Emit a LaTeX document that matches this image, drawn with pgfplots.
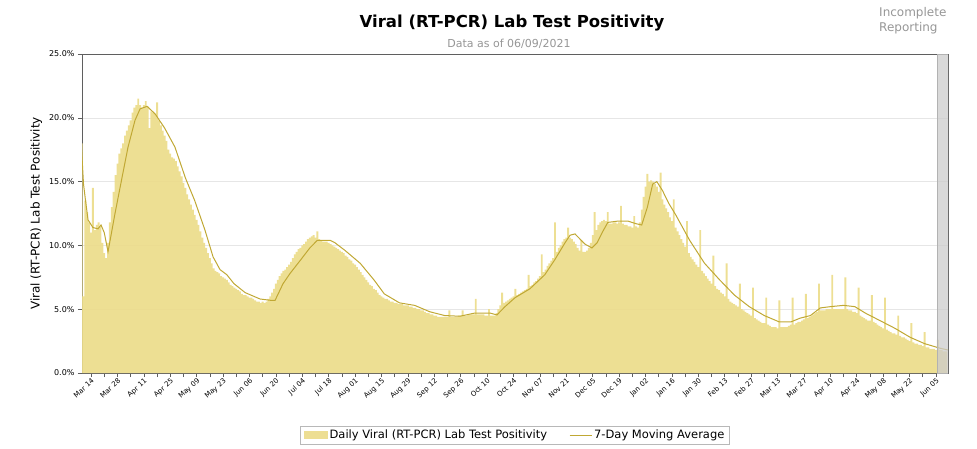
\documentclass[border=0pt]{standalone}
\usepackage{fontspec}
\setmainfont{DejaVu Sans}
\usepackage{pgfplots}
\pgfplotsset{compat=1.18}
\definecolor{areacol}{RGB}{236,220,138}
\definecolor{macol}{RGB}{192,168,52}
\definecolor{gridcol}{RGB}{230,230,230}
\definecolor{framecol}{RGB}{95,95,95}
\definecolor{txtgray}{RGB}{150,150,150}

\begin{document}
\begin{tikzpicture}
\path[use as bounding box] (0pt,0pt) rectangle (977pt,448pt);
\node[font=\bfseries\fontsize{16.5}{18}\selectfont] at (512pt,425pt) {Viral (RT-PCR) Lab Test Positivity};
\node[font=\fontsize{11}{13}\selectfont, text=txtgray] at (509pt,404pt) {Data as of 06/09/2021};
\node[font=\fontsize{12}{15}\selectfont, text=txtgray, align=left, anchor=north west, inner sep=0pt] at (879pt,441pt) {Incomplete\\Reporting};
\begin{axis}[
  at={(82pt,75pt)}, anchor=south west,
  scale only axis, width=866pt, height=319pt,
  xmin=-4.8, xmax=454.4, ymin=0, ymax=25,
  ytick={0,5,...,25},
  yticklabels={0.0\%,5.0\%,10.0\%,15.0\%,20.0\%,25.0\%},
  xtick={0,14,...,448},
  xticklabels={Mar 14,Mar 28,Apr 11,Apr 25,May 09,May 23,Jun 06,Jun 20,Jul 04,Jul 18,Aug 01,Aug 15,Aug 29,Sep 12,Sep 26,Oct 10,Oct 24,Nov 07,Nov 21,Dec 05,Dec 19,Jan 02,Jan 16,Jan 30,Feb 13,Feb 27,Mar 13,Mar 27,Apr 10,Apr 24,May 08,May 22,Jun 05},
  minor xtick={7,21,...,441},
  tick align=outside, tick pos=left,
  major tick length=4pt, minor tick length=4pt,
  tick style={framecol, line width=0.6pt},
  axis line style={framecol, line width=0.8pt},
  ymajorgrids, grid style={gridcol, line width=0.6pt},
  xticklabel style={rotate=42, anchor=north east, font=\fontsize{7}{7.5}\selectfont, inner sep=0.5pt},
  yticklabel style={font=\fontsize{8}{9}\selectfont},
  ylabel={Viral (RT-PCR) Lab Test Positivity},
  ylabel style={font=\fontsize{12}{14}\selectfont},
  legend style={at={(axis description cs:0.5,-0.195)}, anchor=center,
    draw=gridcol!80!black, font=\fontsize{11.5}{13}\selectfont, legend columns=2,
    /tikz/every even column/.append style={column sep=20pt}},
  legend cell align=left,
  legend image code/.code={\draw[#1] (0pt,0pt) -- (22pt,0pt);},
]
\addplot[const plot mark mid, fill=areacol, fill opacity=0.92, draw=none,
  legend image code/.code={\fill[areacol] (0pt,-4pt) rectangle (24pt,4pt);}] coordinates {
(-5,18.0)(-4,6.0)(-3,13.5)(-2,12.6)(-1,11.8)(0,11.0)(1,14.5)(2,11.2)(3,11.6)(4,11.8)
(5,11.5)(6,10.2)(7,9.4)(8,9.0)(9,10.2)(10,11.8)(11,13.0)(12,14.2)(13,15.5)(14,16.4)
(15,17.2)(16,17.6)(17,18.0)(18,18.6)(19,19.0)(20,19.4)(21,19.8)(22,20.4)(23,20.8)(24,21.0)
(25,21.5)(26,21.0)(27,20.8)(28,21.0)(29,21.3)(30,20.9)(31,19.2)(32,20.5)(33,20.4)(34,20.3)
(35,21.2)(36,19.8)(37,19.4)(38,19.0)(39,18.6)(40,18.2)(41,17.5)(42,17.2)(43,16.9)(44,16.8)
(45,16.6)(46,16.2)(47,15.8)(48,15.4)(49,14.9)(50,14.5)(51,14.0)(52,13.6)(53,13.2)(54,12.8)
(55,12.4)(56,12.0)(57,11.6)(58,11.1)(59,10.6)(60,10.2)(61,9.8)(62,9.4)(63,9.0)(64,8.6)
(65,8.2)(66,8.0)(67,7.9)(68,7.8)(69,7.6)(70,7.5)(71,7.4)(72,7.3)(73,7.1)(74,6.9)
(75,6.8)(76,6.7)(77,6.6)(78,6.5)(79,6.4)(80,6.2)(81,6.1)(82,6.1)(83,6.0)(84,5.9)
(85,5.9)(86,5.8)(87,5.7)(88,5.6)(89,5.6)(90,5.5)(91,5.6)(92,5.5)(93,5.6)(94,5.8)
(95,6.0)(96,6.3)(97,6.6)(98,7.0)(99,7.3)(100,7.6)(101,7.8)(102,8.0)(103,8.1)(104,8.3)
(105,8.5)(106,8.7)(107,9.0)(108,9.3)(109,9.5)(110,9.7)(111,9.8)(112,10.0)(113,10.1)(114,10.3)
(115,10.5)(116,10.6)(117,10.7)(118,10.8)(119,10.6)(120,11.1)(121,10.5)(122,10.4)(123,10.3)(124,10.3)
(125,10.3)(126,10.2)(127,10.1)(128,10.0)(129,9.9)(130,9.8)(131,9.7)(132,9.6)(133,9.5)(134,9.4)
(135,9.2)(136,9.1)(137,8.9)(138,8.8)(139,8.6)(140,8.5)(141,8.3)(142,8.1)(143,7.9)(144,7.7)
(145,7.5)(146,7.3)(147,7.1)(148,6.9)(149,6.8)(150,6.6)(151,6.5)(152,6.3)(153,6.1)(154,6.0)
(155,5.9)(156,5.8)(157,5.8)(158,5.7)(159,5.6)(160,5.6)(161,5.5)(162,5.5)(163,5.4)(164,5.4)
(165,5.4)(166,5.3)(167,5.3)(168,5.3)(169,5.2)(170,5.2)(171,5.1)(172,5.1)(173,5.0)(174,5.0)
(175,4.9)(176,4.9)(177,4.8)(178,4.7)(179,4.7)(180,4.6)(181,4.6)(182,4.5)(183,4.5)(184,4.4)
(185,4.4)(186,4.4)(187,4.4)(188,4.4)(189,4.4)(190,4.9)(191,4.4)(192,4.4)(193,4.4)(194,4.4)
(195,4.5)(196,4.5)(197,4.9)(198,4.5)(199,4.5)(200,4.6)(201,4.6)(202,4.6)(203,4.6)(204,5.8)
(205,4.6)(206,4.6)(207,4.6)(208,4.6)(209,4.5)(210,4.5)(211,5.0)(212,4.5)(213,4.5)(214,4.5)
(215,4.7)(216,5.0)(217,5.3)(218,6.3)(219,5.5)(220,5.6)(221,5.7)(222,5.8)(223,5.9)(224,6.0)
(225,6.6)(226,6.1)(227,6.2)(228,6.3)(229,6.4)(230,6.5)(231,6.6)(232,7.7)(233,6.8)(234,6.9)
(235,7.1)(236,7.2)(237,7.4)(238,7.6)(239,9.3)(240,7.9)(241,8.1)(242,8.4)(243,8.6)(244,8.8)
(245,9.0)(246,11.8)(247,9.5)(248,9.8)(249,10.0)(250,10.3)(251,10.5)(252,10.6)(253,11.4)(254,10.6)
(255,10.5)(256,10.3)(257,10.1)(258,9.8)(259,9.6)(260,10.4)(261,9.5)(262,9.5)(263,9.6)(264,9.8)
(265,10.2)(266,10.8)(267,12.6)(268,11.2)(269,11.6)(270,11.8)(271,11.9)(272,12.0)(273,11.9)(274,12.6)
(275,11.7)(276,11.7)(277,11.8)(278,11.8)(279,11.7)(280,11.8)(281,13.1)(282,11.7)(283,11.6)(284,11.6)
(285,11.5)(286,11.5)(287,11.4)(288,12.3)(289,11.5)(290,11.4)(291,11.8)(292,12.8)(293,13.8)(294,14.6)
(295,15.6)(296,15.0)(297,15.1)(298,15.0)(299,14.8)(300,14.6)(301,14.2)(302,15.7)(303,13.6)(304,13.2)
(305,12.9)(306,12.6)(307,12.2)(308,11.9)(309,13.6)(310,11.4)(311,11.1)(312,10.8)(313,10.5)(314,10.2)
(315,9.9)(316,11.9)(317,9.4)(318,9.1)(319,8.9)(320,8.7)(321,8.5)(322,8.3)(323,11.2)(324,8.0)
(325,7.8)(326,7.6)(327,7.4)(328,7.2)(329,7.0)(330,9.2)(331,6.8)(332,6.6)(333,6.5)(334,6.3)
(335,6.2)(336,6.0)(337,8.6)(338,5.8)(339,5.6)(340,5.5)(341,5.4)(342,5.3)(343,5.2)(344,7.0)
(345,5.0)(346,4.9)(347,4.8)(348,4.7)(349,4.6)(350,4.5)(351,6.7)(352,4.3)(353,4.2)(354,4.1)
(355,4.0)(356,3.9)(357,3.9)(358,5.9)(359,3.8)(360,3.7)(361,3.6)(362,3.6)(363,3.6)(364,3.5)
(365,5.7)(366,3.6)(367,3.6)(368,3.6)(369,3.6)(370,3.7)(371,3.8)(372,5.9)(373,3.8)(374,3.9)
(375,4.0)(376,4.0)(377,4.1)(378,4.2)(379,6.2)(380,4.3)(381,4.4)(382,4.5)(383,4.6)(384,4.7)
(385,4.8)(386,7.0)(387,4.9)(388,4.9)(389,4.9)(390,5.0)(391,5.0)(392,5.0)(393,7.7)(394,5.0)
(395,5.0)(396,5.0)(397,5.0)(398,5.0)(399,5.0)(400,7.5)(401,5.0)(402,4.9)(403,4.9)(404,4.8)
(405,4.8)(406,4.7)(407,6.7)(408,4.5)(409,4.4)(410,4.3)(411,4.2)(412,4.1)(413,4.1)(414,6.1)
(415,4.0)(416,3.9)(417,3.8)(418,3.7)(419,3.6)(420,3.5)(421,5.9)(422,3.4)(423,3.3)(424,3.2)
(425,3.1)(426,3.1)(427,3.0)(428,4.5)(429,2.9)(430,2.8)(431,2.8)(432,2.7)(433,2.6)(434,2.5)
(435,3.9)(436,2.4)(437,2.3)(438,2.3)(439,2.2)(440,2.2)(441,2.1)(442,3.2)(443,2.0)(444,2.0)
(445,1.9)(446,1.9)(447,1.9)(448,1.8)(449,2.6)(450,1.8)(451,1.8)(452,1.7)(453,1.7)(454,1.7)
} \closedcycle;
\addlegendentry{Daily Viral (RT-PCR) Lab Test Positivity}
\addplot[macol, line width=1pt] coordinates {
(-5,17.5)(-4,14.8)(-3,13.6)(-1.6,12.0)(1,11.4)(3.7,11.3)(5.3,11.6)(7,11.0)(9,9.5)
(12.7,12.5)(16.4,15.3)(19.6,17.7)(23.3,19.8)(26,20.7)(29.7,20.9)(34,20.3)(39,19.2)
(44.5,17.7)(50,15.3)(55,13.5)(60.4,11.2)(64.7,9.1)(68.4,8.1)(72,7.7)(75.8,7.0)
(81.7,6.3)(89.6,5.8)(95,5.7)(97.6,5.7)(101.8,7.0)(105.5,7.8)(110.8,8.8)(116,9.8)
(120,10.4)(126.7,10.4)(129.4,10.2)(134.7,9.6)(142.7,8.6)(150,7.3)(155.5,6.2)
(163.5,5.5)(171.6,5.3)(179.6,4.8)(187.6,4.5)(195.6,4.45)(203.5,4.7)(211.5,4.7)
(215.2,4.55)(219.5,5.2)(224.8,5.9)(232.7,6.6)(240.6,7.7)(246,8.9)(251.3,10.2)
(254,10.8)(256.6,10.9)(261.9,10.1)(265.6,9.8)(268.3,10.2)(271,11.0)(274,11.8)
(279,11.9)(284.8,11.9)(289,11.7)(292,11.6)(295,13.0)(297.8,14.8)(300,15.0)
(303,14.3)(306.3,13.3)(310,12.4)(317.4,10.4)(325.3,8.6)(333.3,7.3)(341.2,6.1)
(349,5.2)(357,4.5)(365,4.0)(371,4.0)(376,4.3)(381.4,4.5)(386.7,5.1)(392,5.2)
(399,5.3)(405,5.2)(410.5,4.7)(418.4,4.1)(426.3,3.5)(434.3,2.8)(442,2.3)(450,1.95)(454.4,1.8)
};
\addlegendentry{7-Day Moving Average}
\addplot[draw=black!30, fill=black!20, fill opacity=0.75, forget plot] coordinates {
(448.6,0)(448.6,25)(454.4,25)(454.4,0)} -- cycle;
\end{axis}
\end{tikzpicture}
\end{document}
